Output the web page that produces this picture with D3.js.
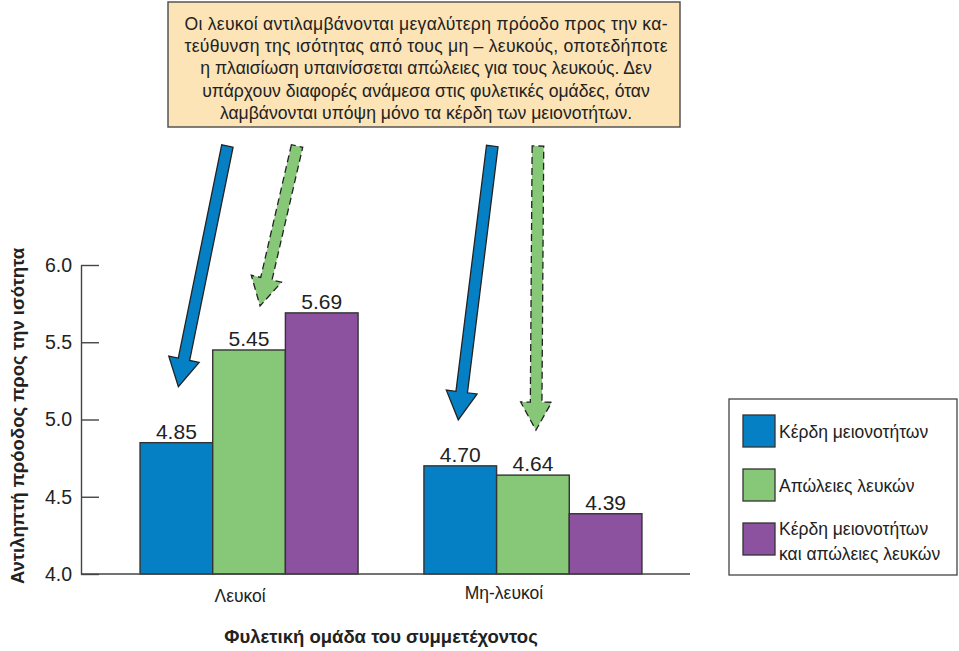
<!DOCTYPE html>
<html lang="el">
<head>
<meta charset="utf-8">
<title>Αντιληπτή πρόοδος προς την ισότητα</title>
<script src="https://cdn.jsdelivr.net/npm/d3@7"></script>
<style>
  html, body { margin: 0; padding: 0; background: #ffffff; }
  svg { display: block; font-family: "Liberation Sans", Arial, Helvetica, sans-serif; }
</style>
</head>
<body>
<svg id="chart" width="959" height="651"></svg>
<script>
// Participant groups and the three framing conditions
const groups = ["Λευκοί", "Μη-λευκοί"];
const series = ["Κέρδη μειονοτήτων", "Απώλειες λευκών", "Κέρδη μειονοτήτων και απώλειες λευκών"];
const legendLines = [["Κέρδη μειονοτήτων"], ["Απώλειες λευκών"], ["Κέρδη μειονοτήτων", "και απώλειες λευκών"]];
const whitesValues = [4.85, 5.45, 5.69];
const nonWhitesValues = [4.70, 4.64, 4.39];
const yTicks = [4.0, 4.5, 5.0, 5.5, 6.0];
const noteLines = [
  "Οι λευκοί αντιλαμβάνονται μεγαλύτερη πρόοδο προς την κα-",
  "τεύθυνση της ισότητας από τους μη – λευκούς, οποτεδήποτε",
  "η πλαισίωση υπαινίσσεται απώλειες για τους λευκούς. Δεν",
  "υπάρχουν διαφορές ανάμεσα στις φυλετικές ομάδες, όταν",
  "λαμβάνονται υπόψη μόνο τα κέρδη των μειονοτήτων."
];
const xTitle = "Φυλετική ομάδα του συμμετέχοντος";
const yTitle = "Αντιληπτή πρόοδος προς την ισότητα";

const colors = ["#0680c4", "#86c878", "#8c52a0"];
const values = [whitesValues, nonWhitesValues];

const svg = d3.select("#chart");

// Scales
const y = d3.scaleLinear().domain([4, 6]).range([574, 265]);
const x0 = d3.scaleBand().domain(groups).range([81, 701]).paddingInner(0.232).paddingOuter(0.208);
const x1 = d3.scaleBand().domain(series).range([0, x0.bandwidth()]).padding(0);

// Bars
const gGroups = svg.append("g").selectAll("g")
  .data(groups)
  .join("g")
  .attr("transform", d => `translate(${x0(d)},0)`);

gGroups.selectAll("rect")
  .data((g, gi) => series.map((s, si) => ({ s, si, v: values[gi][si] })))
  .join("rect")
  .attr("x", d => x1(d.s))
  .attr("y", d => y(d.v))
  .attr("width", x1.bandwidth())
  .attr("height", d => y(4) - y(d.v))
  .attr("fill", d => colors[d.si])
  .attr("stroke", "#333")
  .attr("stroke-width", 1.4);

gGroups.selectAll("text.val")
  .data((g, gi) => series.map((s, si) => ({ s, si, v: values[gi][si] })))
  .join("text")
  .attr("class", "val")
  .attr("x", d => x1(d.s) + x1.bandwidth() / 2)
  .attr("y", d => y(d.v) - 4)
  .attr("text-anchor", "middle")
  .attr("font-size", 21)
  .attr("fill", "#222")
  .text(d => d.v.toFixed(2));

// Y axis with inward ticks
const yAxis = d3.axisLeft(y)
  .tickValues(yTicks)
  .tickFormat(d3.format(".1f"))
  .tickSizeInner(-18)
  .tickSizeOuter(0)
  .tickPadding(9);

const gy = svg.append("g").attr("transform", "translate(81,0)").call(yAxis);
gy.select(".domain").attr("stroke", "#444").attr("stroke-width", 1.4);
gy.selectAll(".tick line").attr("stroke", "#444").attr("stroke-width", 1.4);
gy.selectAll(".tick text").attr("font-size", 19.5).attr("fill", "#222")
  .attr("font-family", "Liberation Sans, Arial, sans-serif");

// X baseline
svg.append("line")
  .attr("x1", 81).attr("x2", 690)
  .attr("y1", y(4)).attr("y2", y(4))
  .attr("stroke", "#444").attr("stroke-width", 1.4);

// Group labels
const groupLabelShift = [-9, -29];
svg.append("g").selectAll("text")
  .data(groups)
  .join("text")
  .attr("x", (d, i) => x0(d) + x0.bandwidth() / 2 + groupLabelShift[i])
  .attr("y", (d, i) => i === 0 ? 602 : 599)
  .attr("text-anchor", "middle")
  .attr("font-size", 17.5)
  .attr("fill", "#222")
  .text(d => d);

// Axis titles
svg.append("text")
  .attr("x", 381).attr("y", 643)
  .attr("text-anchor", "middle")
  .attr("font-size", 18.5)
  .attr("font-weight", "bold")
  .attr("fill", "#222")
  .text(xTitle);

svg.append("text")
  .attr("transform", "translate(24,416) rotate(-90)")
  .attr("text-anchor", "middle")
  .attr("font-size", 18.5)
  .attr("font-weight", "bold")
  .attr("fill", "#222")
  .text(yTitle);

// Callout box
svg.append("rect")
  .attr("x", 168).attr("y", 2)
  .attr("width", 512).attr("height", 125)
  .attr("fill", "#fce4b7")
  .attr("stroke", "#555")
  .attr("stroke-width", 1.5);

svg.append("g").selectAll("text")
  .data(noteLines)
  .join("text")
  .attr("x", 426)
  .attr("y", (d, i) => 30 + i * 22.2)
  .attr("text-anchor", "middle")
  .attr("font-size", 17.6)
  .attr("fill", "#222")
  .attr("textLength", (d, i) => i < 2 ? 483 : null)
  .attr("lengthAdjust", "spacing")
  .text(d => d);

// Block arrows pointing at bars: [group index, series index, tip dx, gap above bar, tail dx, dashed]
const arrowSpecs = [
  [0, 0, 2, 56, 49, false],
  [0, 1, 11, 44, 37, true],
  [1, 0, -2, 46, 34, false],
  [1, 1, 3, 45, 2, true]
];

function arrowPath(tx, ty, px, py, w, h, L) {
  const dx = px - tx, dy = py - ty, len = Math.hypot(dx, dy);
  const ux = dx / len, uy = dy / len, nx = -uy, ny = ux;
  const bx = px - ux * L, by = py - uy * L;
  const pts = [
    [tx + nx * w, ty + ny * w],
    [bx + nx * w, by + ny * w],
    [bx + nx * h, by + ny * h],
    [px, py],
    [bx - nx * h, by - ny * h],
    [bx - nx * w, by - ny * w],
    [tx - nx * w, ty - ny * w]
  ];
  return d3.line()(pts) + "Z";
}

svg.append("g").selectAll("path")
  .data(arrowSpecs)
  .join("path")
  .attr("d", ([gi, si, tipDx, gap, tailDx]) => {
    const px = x0(groups[gi]) + x1(series[si]) + x1.bandwidth() / 2 + tipDx;
    const py = y(values[gi][si]) - gap;
    return arrowPath(px + tailDx, 146, px, py, 5.8, 15.5, 28);
  })
  .attr("fill", d => colors[d[1]])
  .attr("stroke", "#222")
  .attr("stroke-width", 1.3)
  .attr("stroke-dasharray", d => d[5] ? "7,4" : null)
  .attr("stroke-linejoin", "miter");

// Legend
const legend = svg.append("g");
legend.append("rect")
  .attr("x", 729).attr("y", 399)
  .attr("width", 228).attr("height", 176)
  .attr("fill", "#fff")
  .attr("stroke", "#444")
  .attr("stroke-width", 1.3);

const items = legend.selectAll("g.item")
  .data(series)
  .join("g")
  .attr("class", "item")
  .attr("transform", (d, i) => `translate(743,${415 + i * 54})`);

items.append("rect")
  .attr("width", 32).attr("height", 32)
  .attr("fill", (d, i) => colors[i])
  .attr("stroke", "#333")
  .attr("stroke-width", 1.3);

items.each(function (d, i) {
  const lines = legendLines[i];
  const t = d3.select(this).append("text")
    .attr("font-size", 17.5)
    .attr("fill", "#222");
  lines.forEach((ln, k) => {
    t.append("tspan")
      .attr("x", 36)
      .attr("y", lines.length === 1 ? 22.5 : 12 + k * 25)
      .text(ln);
  });
});
</script>
</body>
</html>
